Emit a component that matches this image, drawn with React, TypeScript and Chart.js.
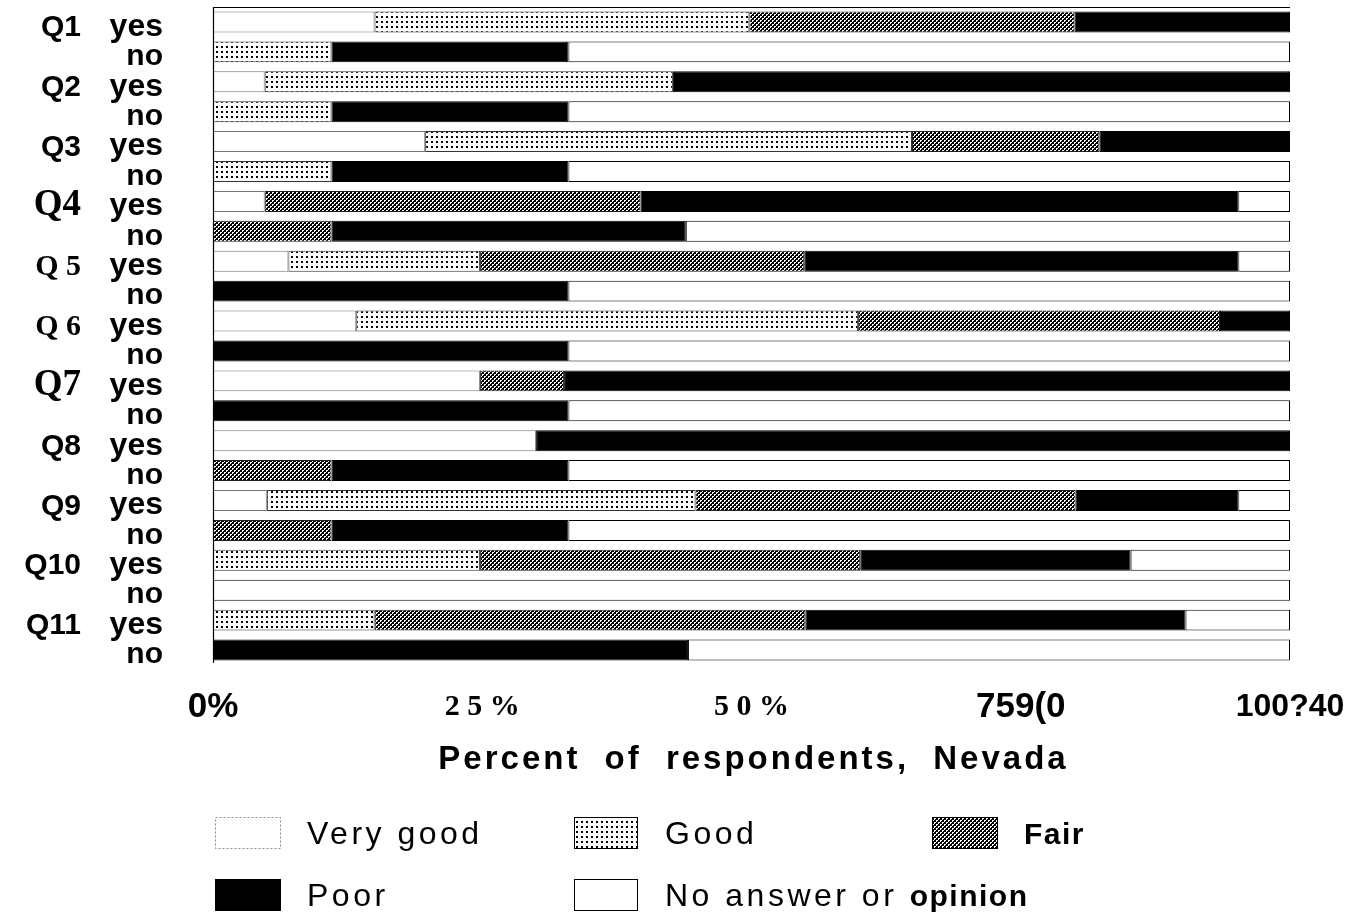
import React, { useEffect, useRef } from 'react';
import { Chart, registerables } from 'chart.js';

Chart.register(...registerables);

// ---------- data ----------
const categories = [
  'Q1 yes', 'Q1 no', 'Q2 yes', 'Q2 no', 'Q3 yes', 'Q3 no', 'Q4 yes', 'Q4 no',
  'Q5 yes', 'Q5 no', 'Q6 yes', 'Q6 no', 'Q7 yes', 'Q7 no', 'Q8 yes', 'Q8 no',
  'Q9 yes', 'Q9 no', 'Q10 yes', 'Q10 no', 'Q11 yes', 'Q11 no',
];
const questionLabels = ['Q1', 'Q2', 'Q3', 'Q4', 'Q 5', 'Q 6', 'Q7', 'Q8', 'Q9', 'Q10', 'Q11'];
const answerLabels = [
  'yes', 'no', 'yes', 'no', 'yes', 'no', 'yes', 'no', 'yes', 'no', 'yes', 'no',
  'yes', 'no', 'yes', 'no', 'yes', 'no', 'yes', 'no', 'yes', 'no',
];
const seriesNames = ['Very good', 'Good', 'Fair', 'Poor', 'No answer or opinion'];

const veryGood = [15.0, 0, 4.8, 0, 19.7, 0, 4.8, 0, 7.0, 0, 13.3, 0, 24.8, 0, 30.0, 0, 5.0, 0, 0, 0, 0, 0];
const good = [34.8, 11.0, 37.9, 11.0, 45.2, 11.0, 0, 0, 17.8, 0, 46.6, 0, 0, 0, 0, 0, 39.8, 0, 24.8, 0, 15.0, 0];
const fair = [30.2, 0, 0, 0, 17.4, 0, 34.9, 11.0, 30.1, 0, 33.6, 0, 7.8, 0, 0, 11.0, 35.3, 11.0, 35.3, 0, 40.0, 0];
const poor = [20.0, 22.0, 57.3, 22.0, 17.7, 22.0, 55.5, 32.9, 40.3, 33.0, 6.5, 33.0, 67.4, 33.0, 70.0, 22.0, 15.1, 22.0, 25.1, 0, 35.3, 44.1];
const noAnswer = [0, 67.0, 0, 67.0, 0, 67.0, 4.8, 56.1, 4.8, 67.0, 0, 67.0, 0, 67.0, 0, 67.0, 4.8, 67.0, 14.8, 100, 9.7, 55.9];

const xTickValues = [0, 25, 50, 75, 100];
const xTickLabels = ['0%', '2 5 %', '5 0 %', '759(0', '100?40'];
const xTitle = 'Percent of respondents, Nevada';

// ---------- styling helpers ----------
const SANS = '"Liberation Sans", Arial, sans-serif';
const SERIF = '"Liberation Serif", "Times New Roman", serif';
const NARROW = '"Liberation Sans Narrow", "Arial Narrow", "Liberation Sans", sans-serif';

const qFonts = [
  `bold 30px ${SANS}`, `bold 30px ${SANS}`, `bold 30px ${SANS}`,
  `bold 37px ${SERIF}`, `bold 30px ${SERIF}`, `bold 30px ${SERIF}`, `bold 37px ${SERIF}`,
  `bold 30px ${SANS}`, `bold 30px ${SANS}`, `bold 30px ${SANS}`, `bold 30px ${SANS}`,
];

function makeGoodPattern(): CanvasPattern | string {
  const c = document.createElement('canvas');
  c.width = 5; c.height = 5;
  const g = c.getContext('2d');
  if (!g) return '#ddd';
  g.fillStyle = '#fff'; g.fillRect(0, 0, 5, 5);
  g.fillStyle = '#000'; g.fillRect(1, 1, 2, 2);
  return g.createPattern(c, 'repeat') || '#ddd';
}
function makeFairPattern(): CanvasPattern | string {
  const c = document.createElement('canvas');
  c.width = 4; c.height = 4;
  const g = c.getContext('2d');
  if (!g) return '#555';
  g.fillStyle = '#000'; g.fillRect(0, 0, 4, 4);
  g.fillStyle = '#fff';
  g.fillRect(0, 0, 2, 1); g.fillRect(0, 1, 1, 1);
  g.fillRect(2, 2, 2, 1); g.fillRect(2, 3, 1, 1);
  return g.createPattern(c, 'repeat') || '#555';
}

export default function App() {
  const ref = useRef<HTMLCanvasElement | null>(null);

  useEffect(() => {
    document.body.style.margin = '0';
    document.body.style.overflow = 'hidden';
    const canvas = ref.current;
    if (!canvas) return;

    const goodPat = makeGoodPattern();
    const fairPat = makeFairPattern();
    const fills: any[] = ['#ffffff', goodPat, fairPat, '#000000', '#ffffff'];
    const borders = ['#777777', '#333333', '#222222', '#000000', '#000000'];
    const seriesData = [veryGood, good, fair, poor, noAnswer];

    const labelPlugin = {
      id: 'customLabels',
      afterDraw(chart: any) {
        const ctx: CanvasRenderingContext2D = chart.ctx;
        const ys = chart.scales.y;
        const area = chart.chartArea;
        ctx.save();
        // frame: left + top
        ctx.strokeStyle = '#000';
        ctx.lineWidth = 1.2;
        ctx.beginPath();
        ctx.moveTo(area.left + 0.5, area.bottom - 2);
        ctx.lineTo(area.left + 0.5, area.top + 0.5);
        ctx.lineTo(area.right, area.top + 0.5);
        ctx.stroke();

        // question labels
        ctx.fillStyle = '#000';
        ctx.textAlign = 'right';
        ctx.textBaseline = 'alphabetic';
        questionLabels.forEach((q, i) => {
          const py = ys.getPixelForValue(i * 2);
          ctx.font = qFonts[i];
          ctx.fillText(q, 81, py + 14);
        });

        // axis title
        (ctx as any).letterSpacing = '3px';
        (ctx as any).wordSpacing = '12px';
        ctx.font = `bold 33px ${SANS}`;
        ctx.textAlign = 'center';
        ctx.fillText(xTitle, (area.left + area.right) / 2 + 2, 769);
        (ctx as any).wordSpacing = '0px';

        // legend
        const items = [
          { x: 215, y: 817, w: 65, text: [seriesNames[0]], bold: [false] },
          { x: 574, y: 817, w: 63, text: [seriesNames[1]], bold: [false] },
          { x: 932, y: 817, w: 65, text: [seriesNames[2]], bold: [true] },
          { x: 215, y: 879, w: 65, text: [seriesNames[3]], bold: [false] },
          { x: 574, y: 879, w: 63, text: ['No answer or ', 'opinion'], bold: [false, true] },
        ];
        items.forEach((it, k) => {
          ctx.fillStyle = fills[k];
          ctx.fillRect(it.x, it.y, it.w, 31);
          ctx.strokeStyle = k === 0 ? '#888' : '#000';
          ctx.lineWidth = 1;
          if (k === 0) ctx.setLineDash([2, 2]);
          ctx.strokeRect(it.x + 0.5, it.y + 0.5, it.w, 31);
          ctx.setLineDash([]);
          let tx = it.x + (it.w === 65 ? 92 : 91);
          ctx.fillStyle = '#000';
          ctx.textAlign = 'left';
          it.text.forEach((t, j) => {
            (ctx as any).letterSpacing = it.bold[j] ? '1.5px' : '3.5px';
            ctx.font = `${it.bold[j] ? 'bold 30px' : '32px'} ${SANS}`;
            ctx.fillText(t, tx, it.y + 27);
            tx += ctx.measureText(t).width;
          });
        });
        (ctx as any).letterSpacing = '0px';
        ctx.restore();
      },
    };

    const chart = new Chart(canvas, {
      type: 'bar',
      data: {
        labels: categories,
        datasets: seriesData.map((arr, k) => ({
          label: seriesNames[k],
          data: arr.map((v) => (v > 0 ? v : null)),
          backgroundColor: fills[k],
          borderColor: borders[k],
          borderWidth: 1,
          borderSkipped: false,
          barPercentage: 0.7,
          categoryPercentage: 1,
        })),
      },
      options: {
        indexAxis: 'y',
        animation: false,
        responsive: false,
        maintainAspectRatio: false,
        layout: { padding: { top: 7, right: 65, left: 0, bottom: 0 } },
        plugins: {
          legend: { display: false },
          tooltip: { enabled: false },
        },
        scales: {
          x: {
            type: 'linear',
            stacked: true,
            min: 0,
            max: 100,
            afterBuildTicks: (scale: any) => {
              scale.ticks = xTickValues.map((v) => ({ value: v }));
            },
            afterFit: (scale: any) => {
              scale.height = 251;
              scale.paddingLeft = 0; scale.paddingRight = 0;
              scale.paddingTop = 0; scale.paddingBottom = 0;
            },
            grid: { display: false, drawTicks: false },
            border: { display: false },
            ticks: {
              autoSkip: false,
              maxRotation: 0,
              padding: 27,
              color: '#000',
              callback: (value: any) => {
                const idx = xTickValues.indexOf(Number(value));
                return idx >= 0 ? xTickLabels[idx] : '';
              },
              font: (c: any) => {
                const i = c.index;
                if (i === 1 || i === 2) return { family: SERIF, size: 30, weight: 'bold', lineHeight: '30px' };
                if (i === 4) return { family: NARROW, size: 32, weight: 'bold', lineHeight: '30px' };
                return { family: NARROW, size: 35, weight: 'bold', lineHeight: '30px' };
              },
            },
          },
          y: {
            type: 'category',
            stacked: true,
            afterFit: (scale: any) => {
              scale.width = 213;
              scale.paddingTop = 0; scale.paddingBottom = 0;
              scale.paddingLeft = 0; scale.paddingRight = 0;
            },
            grid: { display: false, drawTicks: false },
            border: { display: false },
            ticks: {
              autoSkip: false,
              padding: 50,
              labelOffset: 5,
              color: '#000',
              callback: (_v: any, i: number) => answerLabels[i],
              font: (c: any) => {
                const lab = answerLabels[c.index];
                return { family: SANS, size: lab === 'yes' ? 32 : 30, weight: 'bold' };
              },
            },
          },
        },
      },
      plugins: [labelPlugin],
    } as any);

    return () => chart.destroy();
  }, []);

  return <canvas ref={ref} width={1355} height={916} style={{ display: 'block' }} />;
}
